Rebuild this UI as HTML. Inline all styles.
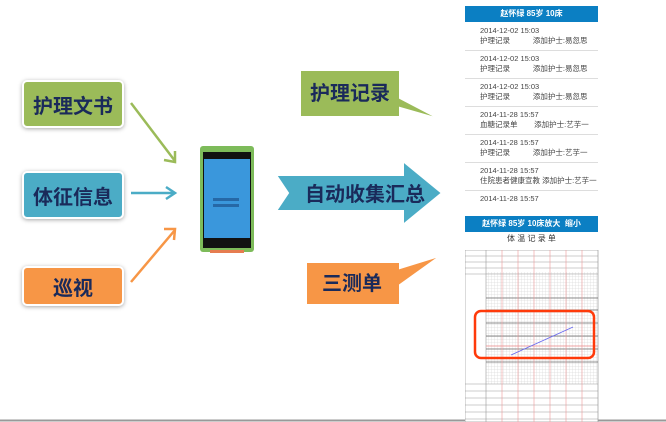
<!DOCTYPE html>
<html><head><meta charset="utf-8"><style>
body{margin:0;width:666px;height:422px;overflow:hidden;background:#fff;font-family:"Liberation Sans","Noto Sans CJK SC",sans-serif}
.box{position:absolute;display:flex;align-items:center;justify-content:center;font-weight:bold;color:#1a2a5a;font-size:20px;border:2px solid #fff;border-radius:5px;box-shadow:0 1px 4px rgba(0,0,0,.35)}
.row{position:absolute;left:465px;width:133px;height:28px;border-bottom:1px solid #ddd;font-size:7.5px;color:#444;line-height:10px;white-space:nowrap}
.row div{position:absolute;left:15px}
</style></head><body>
<div class="box" style="left:22px;top:80px;width:98px;height:44px;background:#9bbb59">护理文书</div>
<div class="box" style="left:22px;top:171px;width:98px;height:44px;background:#4bacc6">体征信息</div>
<div class="box" style="left:22px;top:266px;width:98px;height:36px;background:#f79646">巡视</div>

<svg style="position:absolute;left:0;top:0" width="666" height="422">
<g stroke-width="2.5" fill="none">
<line x1="131" y1="103" x2="175" y2="161" stroke="#9bbb59"/><polyline points="164,160 175,162 175,151" stroke="#9bbb59"/>
<line x1="131" y1="193" x2="175" y2="193" stroke="#4bacc6"/><polyline points="166,187 175,193 166,199" stroke="#4bacc6"/>
<line x1="131" y1="282" x2="175" y2="230" stroke="#f79646"/><polyline points="164,229 175,229 174,240" stroke="#f79646"/>
</g>
<rect x="200" y="146" width="54" height="106" rx="3" fill="#7dbb5a"/>
<rect x="203" y="152" width="48" height="96" fill="#111"/>
<rect x="204" y="159" width="46" height="79" fill="#3a97dc"/>
<rect x="213" y="198" width="26" height="3" fill="#2668a6"/>
<rect x="213" y="204" width="26" height="3" fill="#2668a6"/>
<rect x="210" y="250" width="34" height="3" fill="#e67c50"/>
<polygon points="276,175 403,175 403,161 442,193 403,225 403,211 276,211 288,193" fill="#4bacc6" stroke="#fff" stroke-width="2"/>
<text x="365" y="201" font-size="20" font-weight="bold" fill="#1a2a5a" text-anchor="middle" font-family="Liberation Sans,Noto Sans CJK SC,sans-serif">自动收集汇总</text>
<polygon points="300,70 400,70 400,98 442,120 400,108 400,117 300,117" fill="#9bbb59" stroke="#fff" stroke-width="2"/>
<text x="350" y="100" font-size="20" font-weight="bold" fill="#1a2a5a" text-anchor="middle" font-family="Liberation Sans,Noto Sans CJK SC,sans-serif">护理记录</text>
<polygon points="306,262 400,262 400,268 442,255 400,285 400,305 306,305" fill="#f79646" stroke="#fff" stroke-width="2"/>
<text x="352" y="290" font-size="20" font-weight="bold" fill="#1a2a5a" text-anchor="middle" font-family="Liberation Sans,Noto Sans CJK SC,sans-serif">三测单</text>
<line x1="0" y1="420.5" x2="666" y2="420.5" stroke="#999" stroke-width="2"/>
</svg>

<div style="position:absolute;left:465px;top:6px;width:133px;height:16px;background:#0b7fc3;color:#fff;font-size:8px;font-weight:bold;line-height:16px;text-align:center">赵怀绿 85岁 10床</div>
<div class="row" style="top:22px"><div style="top:4px">2014-12-02 15:03<br>护理记录&nbsp;&nbsp;&nbsp;&nbsp;&nbsp;&nbsp;&nbsp;&nbsp;&nbsp;&nbsp;&nbsp;添加护士:易忽思</div></div>
<div class="row" style="top:50px"><div style="top:4px">2014-12-02 15:03<br>护理记录&nbsp;&nbsp;&nbsp;&nbsp;&nbsp;&nbsp;&nbsp;&nbsp;&nbsp;&nbsp;&nbsp;添加护士:易忽思</div></div>
<div class="row" style="top:78px"><div style="top:4px">2014-12-02 15:03<br>护理记录&nbsp;&nbsp;&nbsp;&nbsp;&nbsp;&nbsp;&nbsp;&nbsp;&nbsp;&nbsp;&nbsp;添加护士:易忽思</div></div>
<div class="row" style="top:106px"><div style="top:4px">2014-11-28 15:57<br>血糖记录单&nbsp;&nbsp;&nbsp;&nbsp;&nbsp;&nbsp;&nbsp;&nbsp;添加护士:艺芋一</div></div>
<div class="row" style="top:134px"><div style="top:4px">2014-11-28 15:57<br>护理记录&nbsp;&nbsp;&nbsp;&nbsp;&nbsp;&nbsp;&nbsp;&nbsp;&nbsp;&nbsp;&nbsp;添加护士:艺芋一</div></div>
<div class="row" style="top:162px"><div style="top:4px">2014-11-28 15:57<br>住院患者健康宣教 添加护士:艺芋一</div></div>
<div class="row" style="top:190px;border:none;height:12px"><div style="top:4px">2014-11-28 15:57</div></div>

<div style="position:absolute;left:465px;top:216px;width:133px;height:16px;background:#0b7fc3;color:#fff;font-size:8px;font-weight:bold;line-height:16px;text-align:center">赵怀绿 85岁 10床放大&nbsp;&nbsp;缩小</div>
<div style="position:absolute;left:465px;top:234px;width:133px;text-align:center;font-size:8px;color:#333;line-height:9px">体 温 记 录 单</div>
<svg style="position:absolute;left:465px;top:250px" width="134" height="172">
<defs>
<pattern id="fine" width="3" height="3" patternUnits="userSpaceOnUse"><path d="M3,0V3M0,3H3" stroke="#ccc" stroke-width="0.5" fill="none"/></pattern>
</defs>
<rect x="0" y="0" width="133" height="172" fill="#fff" stroke="#999" stroke-width="0.7"/>
<rect x="21" y="22" width="112" height="112" fill="url(#fine)"/>
<g stroke="#999" stroke-width="0.6">
<line x1="0" y1="6" x2="133" y2="6"/><line x1="0" y1="12" x2="133" y2="12"/><line x1="0" y1="18" x2="133" y2="18"/><line x1="0" y1="24" x2="133" y2="24"/>
<line x1="0" y1="134" x2="133" y2="134"/><line x1="0" y1="141" x2="133" y2="141"/><line x1="0" y1="148" x2="133" y2="148"/><line x1="0" y1="155" x2="133" y2="155"/><line x1="0" y1="162" x2="133" y2="162"/><line x1="0" y1="169" x2="133" y2="169"/>
<line x1="21" y1="0" x2="21" y2="172"/>
</g>
<g stroke="#666" stroke-width="0.7">
<line x1="21" y1="60" x2="133" y2="60"/><line x1="21" y1="73" x2="133" y2="73"/><line x1="21" y1="86" x2="133" y2="86"/><line x1="21" y1="99" x2="133" y2="99"/><line x1="21" y1="112" x2="133" y2="112"/><line x1="21" y1="48" x2="133" y2="48"/>
</g>
<line x1="21" y1="96" x2="133" y2="96" stroke="#e88" stroke-width="0.7"/>
<g stroke="#e99" stroke-width="0.6">
<line x1="37" y1="0" x2="37" y2="172"/><line x1="53" y1="0" x2="53" y2="172"/><line x1="69" y1="0" x2="69" y2="172"/><line x1="85" y1="0" x2="85" y2="172"/><line x1="101" y1="0" x2="101" y2="172"/><line x1="117" y1="0" x2="117" y2="172"/>
</g>
<line x1="46" y1="105" x2="108" y2="77" stroke="#6666ee" stroke-width="0.8"/>
<rect x="10" y="61" width="119" height="47" rx="6" fill="none" stroke="#ff3a0a" stroke-width="2.5"/>
</svg>
</body></html>
